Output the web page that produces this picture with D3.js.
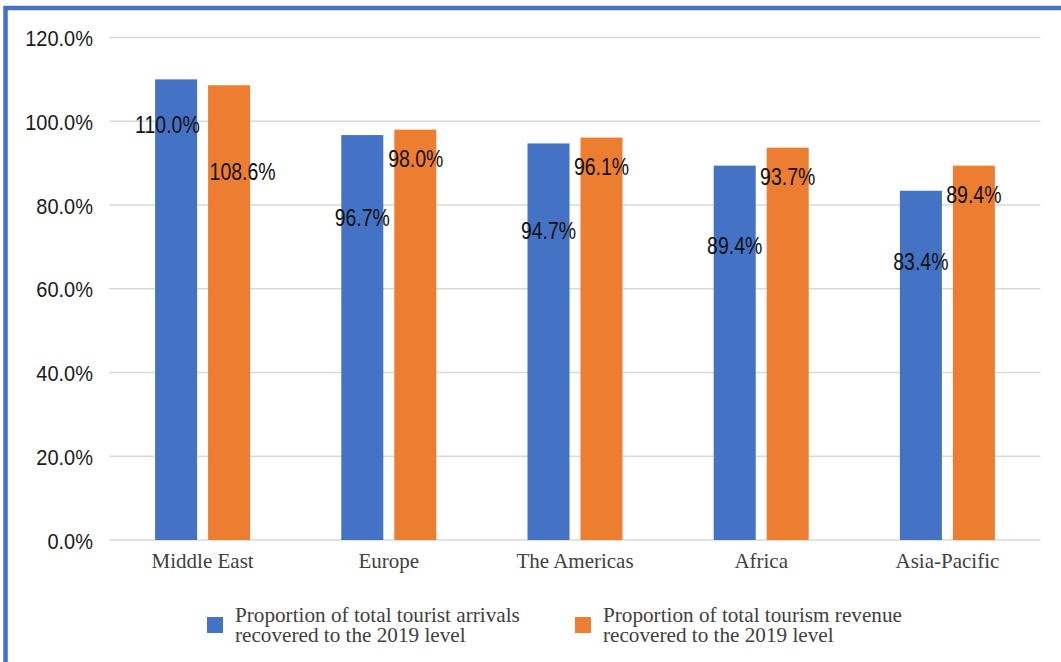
<!DOCTYPE html>
<html>
<head>
<meta charset="utf-8">
<script src="https://cdn.jsdelivr.net/npm/d3@7/dist/d3.min.js"></script>
<style>
  html, body { margin: 0; padding: 0; background: #fff; }
  svg { display: block; }
</style>
</head>
<body>
<svg id="chart" width="1061" height="662"></svg>
<script>
// Regions and recovery ratios (% of 2019 level)
const regions = ["Middle East", "Europe", "The Americas", "Africa", "Asia-Pacific"];
const arrivals = [110.0, 96.7, 94.7, 89.4, 83.4];
const revenue = [108.6, 98.0, 96.1, 93.7, 89.4];
const yTicks = [0, 20, 40, 60, 80, 100, 120];
const seriesNames = [
  ["Proportion of total tourist arrivals", "recovered to the 2019 level"],
  ["Proportion of total tourism revenue", "recovered to the 2019 level"]
];

const colors = ["#4472C4", "#ED7D31"];
const W = 1061, H = 662;
const plot = { left: 109.5, right: 1040.5, top: 37.5, bottom: 540 };

// hand-placed data label offsets (px below bar top, px sideways)
const labelDrop = [[44.5, 82, 86.4, 79.4, 70.5], [86, 29, 29, 28.6, 28.2]];
const labelShift = [[-8.7, 0, 0, 0, 0], [13.5, 0.5, 0, 0, 0]];

const numFont = "'Liberation Sans', Arial, sans-serif";
const serifFont = "'Liberation Serif', 'Times New Roman', serif";

const svg = d3.select("#chart");

// outer frame
svg.append("rect")
  .attr("x", 5.5).attr("y", 8).attr("width", W + 10).attr("height", H + 10)
  .attr("fill", "none").attr("stroke", "#4472C4").attr("stroke-width", 4.5);

const y = d3.scaleLinear().domain([0, 120]).range([plot.bottom, plot.top]);
const x0 = d3.scaleBand().domain(regions).range([plot.left, plot.right]).paddingInner(0).paddingOuter(0);
const barW = 42, barGap = 11;

// gridlines
svg.append("g").selectAll("line").data(yTicks).join("line")
  .attr("x1", plot.left).attr("x2", plot.right)
  .attr("y1", d => y(d)).attr("y2", d => y(d))
  .attr("stroke", "#d9d9d9").attr("stroke-width", 1.5);

// y axis labels (narrow, tall numerals)
const yAxis = d3.axisLeft(y).tickValues(yTicks).tickSize(0).tickPadding(0)
  .tickFormat(d => d3.format(".1f")(d) + "%");
const ya = svg.append("g").attr("transform", `translate(93,0)`).call(yAxis);
ya.select(".domain").remove();
ya.selectAll("text")
  .attr("font-family", numFont)
  .attr("font-size", 20).attr("fill", "#1a1a1a")
  .attr("dy", "0.36em").attr("transform", "scale(1,1.12)");

// x axis category labels
const xAxis = d3.axisBottom(x0).tickSize(0).tickPadding(0);
const xa = svg.append("g").attr("transform", `translate(0,568)`).call(xAxis);
xa.select(".domain").remove();
xa.selectAll("text")
  .attr("font-family", serifFont)
  .attr("font-size", 21).attr("fill", "#404040").attr("dy", 0);

const series = [arrivals, revenue];
const barX = (i, s) => x0(regions[i]) + x0.bandwidth() / 2 + (s === 0 ? -(barGap / 2 + barW) : barGap / 2);

series.forEach((vals, s) => {
  const g = svg.append("g");
  g.selectAll("rect").data(vals).join("rect")
    .attr("x", (d, i) => barX(i, s))
    .attr("width", barW)
    .attr("y", d => y(d))
    .attr("height", d => y(0) - y(d))
    .attr("fill", colors[s]);
});

// data labels
const labelSize = 19.5, labelStretch = 1.27;
series.forEach((vals, s) => {
  svg.append("g").selectAll("text").data(vals).join("text")
    .attr("transform", (d, i) =>
      `translate(${barX(i, s) + barW / 2 + labelShift[s][i]},${y(d) + labelDrop[s][i]}) scale(1,${labelStretch})`)
    .attr("dy", "0.358em")
    .attr("text-anchor", "middle")
    .attr("font-family", numFont)
    .attr("font-size", labelSize).attr("fill", "#111")
    .text(d => d3.format(".1f")(d) + "%");
});

// legend
const legendX = [207, 575];
seriesNames.forEach((lines, s) => {
  const lg = svg.append("g").attr("transform", `translate(${legendX[s]},0)`);
  lg.append("rect").attr("x", 0).attr("y", 617).attr("width", 16).attr("height", 16).attr("fill", colors[s]);
  lg.append("text")
    .attr("font-family", serifFont)
    .attr("font-size", 21.2).attr("fill", "#404040")
    .selectAll("tspan").data(lines).join("tspan")
    .attr("x", 28).attr("y", (d, i) => 621.5 + i * 20.5)
    .text(d => d);
});
</script>
</body>
</html>
